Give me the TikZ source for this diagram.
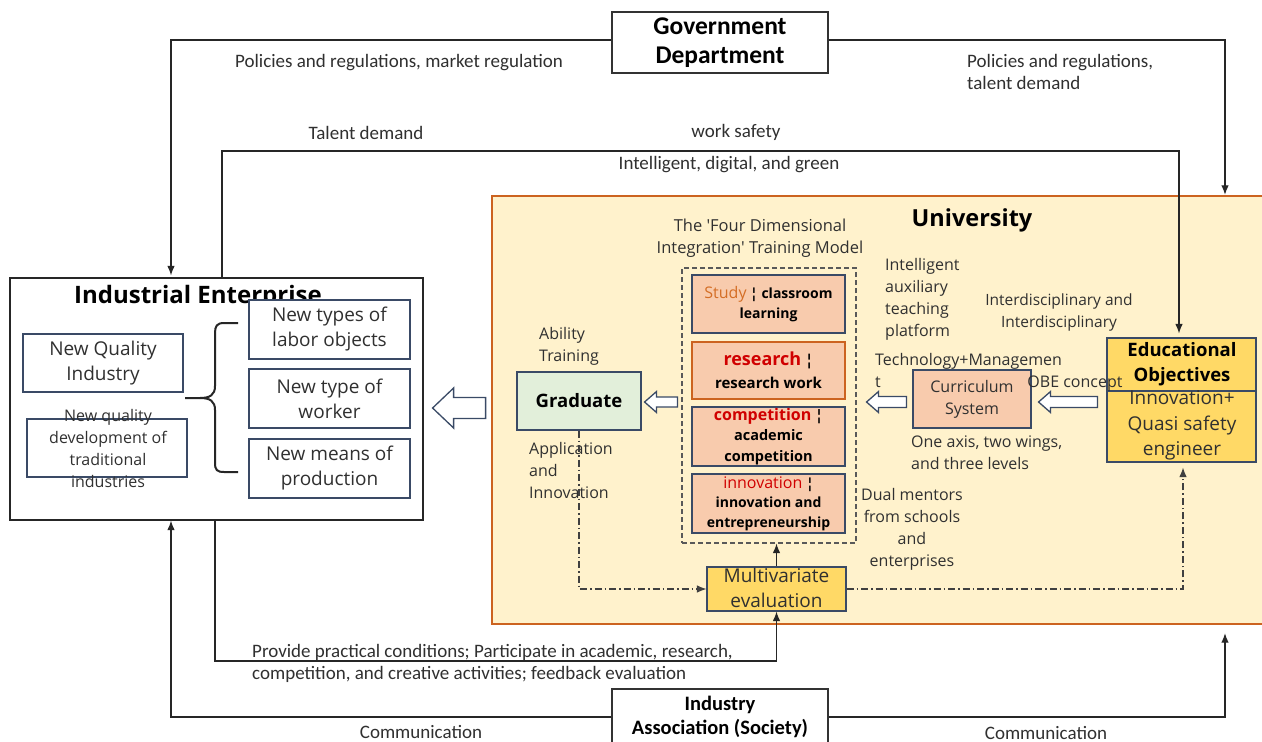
\documentclass[tikz,border=0pt]{standalone}
\usepackage{fontspec}
\setmainfont{Carlito}
\newfontfamily\yh{Open Sans}
\usetikzlibrary{arrows.meta,calc}

\definecolor{cream}{HTML}{FFF2CC}
\definecolor{uniorange}{HTML}{CC6320}
\definecolor{peach}{HTML}{F8CBAD}
\definecolor{gold}{HTML}{FFD966}
\definecolor{mint}{HTML}{E2EFDA}
\definecolor{slate}{HTML}{3A4A66}
\definecolor{redtxt}{HTML}{D00000}
\definecolor{orgtxt}{HTML}{D46E26}
\definecolor{ink}{HTML}{303030}

\newcommand\setfs[2]{\fontsize{#1}{#2}\selectfont}
% left-pointing hollow block arrow: tip, total length, head length, head half-width, shaft half-width
\newcommand\hollowleft[5]{%
  \draw[harrow] (#1) -- ++(#3,-#4) -- ++(0,#4-#5) -- ++(#2-#3,0) -- ++(0,2*#5)
    -- ++(-#2+#3,0) -- ++(0,#4-#5) -- cycle;}

\tikzset{
  conn/.style={draw=black!85, line width=1.2},
  tip/.style={-{Latex[length=9.5pt,width=7.5pt]}},
  dd/.style={draw=black!75, line width=1.1, dash pattern=on 7pt off 3pt on 1.5pt off 3pt},
  harrow/.style={draw=slate, line width=1.3, fill=white, line join=miter},
  box/.style={draw=slate, line width=1.1, inner sep=0pt, align=center},
  lbl/.style={font=\setfs{19}{22}, text=ink, inner sep=0pt},
  ylbl/.style={font=\yh\setfs{16}{22}, text=ink, inner sep=0pt},
  ybox/.style={box, font=\yh\setfs{19}{25}, text=ink},
  quad/.style={box, fill=peach, minimum width=153pt, font=\yh\bfseries\setfs{14}{19.5}, text=black},
}

\begin{document}
\begin{tikzpicture}[x=1pt,y=-1pt]
\clip (0,0) rectangle (1262,742);
\fill[white] (0,0) rectangle (1262,742);

% ---------- University block ----------
\node[draw=uniorange, line width=2.4, fill=cream, minimum width=788pt, minimum height=428pt, inner sep=0pt] (uni) at (886,410) {};
\node[font=\yh\bfseries\setfs{23.5}{28}, text=black, inner sep=0pt] (unit) at (972,220) {University};

% ---------- top and bottom partners ----------
\node[draw=black!80, line width=1.2, minimum width=216pt, minimum height=61pt, inner sep=0pt, align=center,
      font=\bfseries\setfs{25.5}{29}, fill=white] (gov) at (720,42.5) {Government\\Department};
\node[draw=black!80, line width=1.2, minimum width=216pt, minimum height=56pt, inner sep=0pt, align=center,
      font=\bfseries\setfs{20.5}{24}, fill=white] (ia) at (720,717) {Industry\\Association (Society)};

% ---------- Industrial Enterprise ----------
\node[draw=black!85, line width=1.2, minimum width=413pt, minimum height=242pt, inner sep=0pt, fill=white] (ie) at (216.5,399) {};
\node[font=\yh\bfseries\setfs{24}{28}, text=black, inner sep=0pt] (iet) at (198,297) {Industrial Enterprise};
\node[ybox, minimum width=160pt, minimum height=58pt] (nqi) at (103,363) {New Quality\\Industry};
\node[box, minimum width=160pt, minimum height=58pt] (nqd) at (107,448) {};
\node[font=\yh\setfs{16}{22}, text=ink, align=center, inner sep=0pt] (nqdt) at (108,448) {New quality\\development of\\traditional\\industries};
\node[ybox, fill=white, minimum width=161pt, minimum height=59pt] (nlo) at (329.5,329.5) {New types of\\labor objects};
\node[ybox, minimum width=161pt, minimum height=59pt] (nw) at (329.5,398.5) {New type of\\worker};
\node[ybox, minimum width=161pt, minimum height=59pt] (nmp) at (329.5,468.5) {New means of\\production};
% curly brace grouping the three new factors
\draw[black!85, line width=2] (238,323) -- (224,323) .. controls (217,323) and (215,326) .. (215,333) -- (215,386)
  .. controls (215,395) and (210,398) .. (200,398) -- (185,398);
\draw[black!85, line width=2] (200,398) .. controls (210,398) and (215,401) .. (215,410) -- (215,463)
  .. controls (215,470) and (217,472) .. (224,472) -- (238,472);

% ---------- inside the University ----------
\node[ylbl, align=center, font=\yh\setfs{16.5}{22}] (fdt) at (760,238) {The 'Four Dimensional\\Integration' Training Model};
\node[draw=black!65, line width=1.1, dash pattern=on 5pt off 3pt, minimum width=174pt, minimum height=275pt, inner sep=0pt] (fd) at (769,405.5) {};
\node[quad, minimum height=58pt] (b1) at (768.5,304) {{\setfs{16}{19}\mdseries\color{orgtxt}Study} ¦ classroom\\learning};
\node[quad, draw=uniorange, minimum height=57pt, font=\yh\bfseries\setfs{15}{23}] (b2) at (768.5,370.5) {{\setfs{18}{23}\color{redtxt}research} ¦\\research work};
\node[quad, minimum height=59pt, font=\yh\bfseries\setfs{14.5}{20.5}] (b3) at (768.5,436.5) {{\setfs{16}{20}\color{redtxt}competition} ¦\\academic\\competition};
\node[quad, minimum height=59pt] (b4) at (768.5,503.5) {{\setfs{16}{19}\mdseries\color{redtxt}innovation} ¦\\innovation and\\entrepreneurship};

\node[box, fill=mint, minimum width=124pt, minimum height=58pt, font=\yh\bfseries\setfs{18.5}{22}, text=black] (grad) at (579,401) {Graduate};
\node[ylbl, anchor=west, align=left] (abt) at (539,346) {Ability\\Training};
\node[ylbl, anchor=west, align=left] (appt) at (529,470.5) {Application\\and\\Innovation};

\node[box, fill=gold, minimum width=139pt, minimum height=44pt] (mv) at (776.5,589) {};
\node[font=\yh\setfs{19}{25}, text=ink, align=center, inner sep=0pt] (mvt) at (776.5,587.5) {Multivariate\\evaluation};

\node[box, fill=peach, minimum width=118pt, minimum height=58pt, font=\yh\setfs{16}{22}, text=ink] (cur) at (972,399) {Curriculum\\System};

\node[box, fill=gold, minimum width=149pt, minimum height=124pt] (edu) at (1181.5,400) {};
\draw[slate, line width=1.1] (edu.west |- 0,391) -- (edu.east |- 0,391);
\node[font=\yh\bfseries\setfs{18.5}{25}, text=black, align=center, inner sep=0pt] (edut) at (1182,364.5) {Educational\\Objectives};
\node[font=\yh\setfs{19}{25.5}, text=ink, align=center, inner sep=0pt] (edub) at (1182,425.5) {Innovation+\\Quasi safety\\engineer};

\node[ylbl, anchor=west, align=left] (iat) at (885,299) {Intelligent\\auxiliary\\teaching\\platform};
\node[ylbl, align=center, font=\yh\setfs{15.5}{21.5}] (intd) at (1059,312.5) {Interdisciplinary and\\Interdisciplinary};
\node[ylbl, anchor=west, align=left] (tm) at (875,370) {Technology+Managemen\\t};
\node[ylbl] (obe) at (1075,384) {OBE concept};
\node[ylbl, anchor=west, align=left] (oat) at (911,452.5) {One axis, two wings,\\and three levels};
\node[ylbl, align=center] (dm) at (912,529.5) {Dual mentors\\from schools\\and\\enterprises};

% ---------- hollow flow arrows ----------
\hollowleft{$(ie.east)+(9,9)$}{53}{21}{20}{10.5}
\hollowleft{$(grad.east)+(3,1)$}{33}{12}{10.5}{5}
\hollowleft{$(fd.east)+(10,-3.5)$}{40}{12}{10.5}{5.5}
\hollowleft{$(cur.east)+(7,3)$}{59}{12}{10.5}{5.5}

% ---------- outer connectors ----------
\coordinate (c1) at (171,40);
\coordinate (c2) at (222,151);
\coordinate (c3) at (1179,151);
\coordinate (c4) at (1225,40);
\coordinate (c5) at (215,661);
\coordinate (c7) at (171,717);
\coordinate (c9) at (1225,717);
\coordinate (c8) at (1183,587);

\draw[conn, tip, shorten >=2pt] (c1 -| gov.west) -- (c1) -- (c1 |- ie.north);
\draw[conn, tip, shorten >=4pt] (c2 |- ie.north) -- (c2) -- (c3) -- (c3 |- edu.north);
\draw[conn, tip] (c4 -| gov.east) -- (c4) -- (c4 |- uni.north);
\draw[conn, tip] (c5 |- ie.south) -- (c5) -- (c5 -| mv.south) -- (mv.south);
\draw[conn, tip] (c7 -| ia.west) -- (c7) -- (c7 |- ie.south);
\draw[conn, tip, shorten >=8pt] (c9 -| ia.east) -- (c9) -- (c9 |- uni.south);
\draw[conn, tip] (mv.north) -- (mv.north |- fd.south);
\draw[dd, tip] (grad.south) -- (grad.south |- mv.west) -- (mv.west);
\draw[dd, tip, shorten >=5pt] (mv.east) -- (mv.east -| c8) -- (c8 |- edu.south);

% ---------- connector labels ----------
\node[lbl] (l1) at (399,63) {Policies and regulations, market regulation};
\node[lbl] (l2) at (366,133) {Talent demand};
\node[lbl] (l3) at (736,132) {work safety};
\node[lbl] (l4) at (729,165) {Intelligent, digital, and green};
\node[lbl, anchor=west, align=left] (l5) at (967,72) {Policies and regulations,\\talent demand};
\node[lbl, anchor=west, align=left] (l6) at (252,663) {Provide practical conditions; Participate in academic, research,\\competition, and creative activities; feedback evaluation};
\node[lbl] (l7) at (421,732) {Communication};
\node[lbl] (l8) at (1046,733) {Communication};
\end{tikzpicture}
\end{document}
